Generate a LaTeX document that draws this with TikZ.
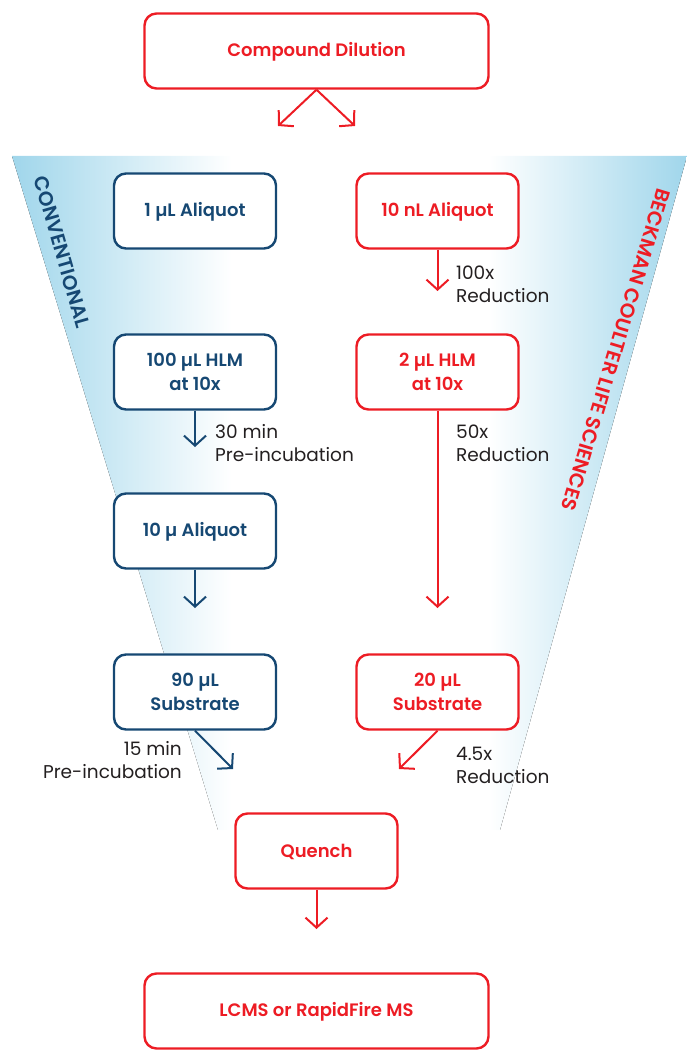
\documentclass[tikz,border=0pt]{standalone}
\usepackage{fontspec}
\setmainfont{Poppins}[BoldFont={Poppins Medium}]
\newfontfamily\sbfont{Poppins SemiBold}
\usetikzlibrary{arrows.meta}
\definecolor{cred}{RGB}{237,28,36}
\definecolor{cblue}{RGB}{22,72,115}
\definecolor{ctext}{RGB}{35,31,32}
\definecolor{cfun}{RGB}{160,214,235}
\begin{document}
\begin{tikzpicture}[x=1pt,y=-1pt,
  box/.style={draw, rounded corners=12pt, line width=2.4pt, fill=white,
    minimum height=75pt, align=center, inner sep=0pt,
    font=\sbfont\fontsize{18}{24}\selectfont},
  oneline/.style={text height=15pt},
  sbox/.style={box, minimum width=162pt},
  wbox/.style={box, minimum width=344pt},
  redc/.style={draw=cred, text=cred},
  bluec/.style={draw=cblue, text=cblue},
  arr/.style={line width=2pt, -{Straight Barb[length=10pt,width=22pt]}},
  lbl/.style={font=\fontsize{18.5}{23}\selectfont, text=ctext, inner sep=0pt},
  side/.style={font=\sbfont\fontsize{20}{22}\selectfont, inner sep=0pt}]
\useasboundingbox (0,0) rectangle (687,1051);
% funnel
\begin{scope}
  \clip (12,156) -- (687,156) -- (500,830) -- (218,830) -- cycle;
  \fill[left color=cfun, right color=white] (12,156) rectangle (232,830);
  \fill[left color=white, right color=cfun] (488,156) rectangle (687,830);
\end{scope}
\node[side, text=cblue, rotate=-74] (conv) at (62,252) {CONVENTIONAL};
\node[side, text=cred, rotate=-106.7] (bcls) at (616,350) {BECKMAN COULTER LIFE SCIENCES};
% boxes
\node[wbox, redc, oneline] (cd) at (316.5,51) {Compound Dilution};
\node[sbox, bluec, oneline] (l1) at (195,211) {1 µL Aliquot};
\node[sbox, redc, oneline] (r1) at (437.5,211) {10 nL Aliquot};
\node[sbox, bluec] (l2) at (195,372) {100 µL HLM\\at 10x};
\node[sbox, redc] (r2) at (437.5,372) {2 µL HLM\\at 10x};
\node[sbox, bluec, oneline] (l3) at (195,531) {10 µ Aliquot};
\node[sbox, bluec] (l4) at (195,692) {90 µL\\Substrate};
\node[sbox, redc] (r4) at (437.5,692) {20 µL\\Substrate};
\node[sbox, redc, oneline] (q) at (316.5,851) {Quench};
\node[wbox, redc, oneline] (ms) at (316.5,1011) {LCMS or RapidFire MS};
% arrow ends
\coordinate (tl) at (278,126);
\coordinate (tr) at (355,126);
\coordinate (e1) at (437.5,291);
\coordinate (e2) at (195,447);
\coordinate (e3) at (437.5,608);
\coordinate (e4) at (195,608);
\coordinate (e5) at (233,769);
\coordinate (e6) at (399,769);
\coordinate (e7) at (316.5,929);
% arrows
\draw[arr, cred] (cd.south) -- (tl);
\draw[arr, cred] (cd.south) -- (tr);
\draw[arr, cred] (r1.south) -- (e1);
\draw[arr, cblue] (l2.south) -- (e2);
\draw[arr, cred] (r2.south) -- (e3);
\draw[arr, cblue] (l3.south) -- (e4);
\draw[arr, cblue] (l4.south) -- (e5);
\draw[arr, cred] (r4.south) -- (e6);
\draw[arr, cred] (q.south) -- (e7);
% labels
\node[lbl, anchor=west, align=left] (t1) at (456,284) {100x\\Reduction};
\node[lbl, anchor=west, align=left] (t2) at (215,443) {30 min\\Pre-incubation};
\node[lbl, anchor=west, align=left] (t3) at (456,443) {50x\\Reduction};
\node[lbl, anchor=east, align=right] (t4) at (182,760) {15 min\\Pre-incubation};
\node[lbl, anchor=west, align=left] (t5) at (456,765) {4.5x\\Reduction};
\end{tikzpicture}
\end{document}
